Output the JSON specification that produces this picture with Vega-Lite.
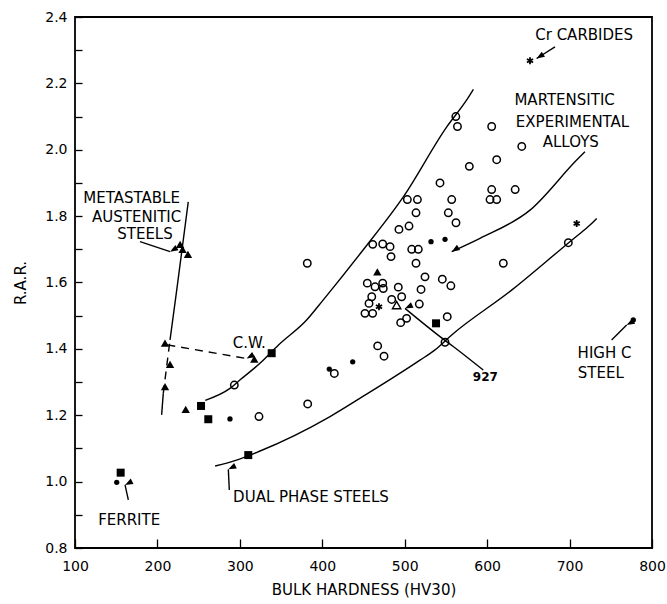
{
  "$schema": "https://vega.github.io/schema/vega-lite/v6.json",
  "width": 577,
  "height": 531,
  "autosize": {"type": "none"},
  "padding": {"left": 75, "top": 17, "right": 15, "bottom": 56},
  "background": "white",
  "config": {
    "view": {"stroke": "black", "strokeWidth": 1.8},
    "font": "DejaVu Sans",
    "axis": {
      "domain": false, "ticks": true, "tickColor": "black", "tickWidth": 1.3, "tickOpacity": 1, "zindex": 1,
      "labelColor": "black", "titleColor": "black", "labelFont": "DejaVu Sans", "titleFont": "DejaVu Sans",
      "labelFontSize": 14, "titleFontSize": 15, "titleFontWeight": "normal", "grid": false, "labelFlush": false
    }
  },
  "datasets": {
    "pts": [
      {"x": 562, "y": 2.10, "k": "o"}, {"x": 564, "y": 2.07, "k": "o"}, {"x": 605.5, "y": 2.07, "k": "o"},
      {"x": 642, "y": 2.01, "k": "o"}, {"x": 611.6, "y": 1.97, "k": "o"}, {"x": 578.4, "y": 1.95, "k": "o"},
      {"x": 542.8, "y": 1.90, "k": "o"}, {"x": 605.5, "y": 1.88, "k": "o"}, {"x": 603.5, "y": 1.85, "k": "o"},
      {"x": 611.6, "y": 1.85, "k": "o"}, {"x": 634, "y": 1.88, "k": "o"}, {"x": 503.2, "y": 1.85, "k": "o"},
      {"x": 515.4, "y": 1.85, "k": "o"}, {"x": 557, "y": 1.85, "k": "o"}, {"x": 513.7, "y": 1.81, "k": "o"},
      {"x": 552.9, "y": 1.81, "k": "o"}, {"x": 562.2, "y": 1.78, "k": "o"}, {"x": 493, "y": 1.76, "k": "o"},
      {"x": 505.2, "y": 1.77, "k": "o"}, {"x": 461.2, "y": 1.715, "k": "o"}, {"x": 473.3, "y": 1.716, "k": "o"},
      {"x": 482.2, "y": 1.708, "k": "o"}, {"x": 483.4, "y": 1.678, "k": "o"}, {"x": 508.5, "y": 1.70, "k": "o"},
      {"x": 516.5, "y": 1.70, "k": "o"}, {"x": 513.7, "y": 1.658, "k": "o"}, {"x": 619.6, "y": 1.658, "k": "o"},
      {"x": 698.5, "y": 1.72, "k": "o"}, {"x": 381.8, "y": 1.658, "k": "o"}, {"x": 524.6, "y": 1.617, "k": "o"},
      {"x": 545.6, "y": 1.61, "k": "o"}, {"x": 556, "y": 1.59, "k": "o"}, {"x": 454.6, "y": 1.598, "k": "o"},
      {"x": 464, "y": 1.587, "k": "o"}, {"x": 473.3, "y": 1.598, "k": "o"}, {"x": 474, "y": 1.582, "k": "o"},
      {"x": 492.2, "y": 1.586, "k": "o"}, {"x": 519.8, "y": 1.579, "k": "o"}, {"x": 460, "y": 1.557, "k": "o"},
      {"x": 484.2, "y": 1.549, "k": "o"}, {"x": 496.3, "y": 1.557, "k": "o"}, {"x": 517.7, "y": 1.535, "k": "o"},
      {"x": 456.7, "y": 1.537, "k": "o"}, {"x": 451.8, "y": 1.507, "k": "o"}, {"x": 461.1, "y": 1.507, "k": "o"},
      {"x": 502.3, "y": 1.492, "k": "o"}, {"x": 495.1, "y": 1.479, "k": "o"}, {"x": 551.6, "y": 1.497, "k": "o"},
      {"x": 548.9, "y": 1.42, "k": "o"}, {"x": 467.2, "y": 1.409, "k": "o"}, {"x": 474.9, "y": 1.378, "k": "o"},
      {"x": 414.6, "y": 1.326, "k": "o"}, {"x": 293.3, "y": 1.291, "k": "o"}, {"x": 323.2, "y": 1.196, "k": "o"},
      {"x": 382.3, "y": 1.234, "k": "o"},
      {"x": 531.9, "y": 1.723, "k": "f"}, {"x": 548.9, "y": 1.73, "k": "f"}, {"x": 436.9, "y": 1.361, "k": "f"},
      {"x": 408.5, "y": 1.339, "k": "f"}, {"x": 288, "y": 1.189, "k": "f"}, {"x": 150.6, "y": 0.998, "k": "f"},
      {"x": 777.3, "y": 1.487, "k": "f"},
      {"x": 338.6, "y": 1.387, "k": "s"}, {"x": 252.9, "y": 1.228, "k": "s"}, {"x": 261.7, "y": 1.188, "k": "s"},
      {"x": 310.2, "y": 1.08, "k": "s"}, {"x": 155.4, "y": 1.027, "k": "s"}, {"x": 538, "y": 1.477, "k": "s"},
      {"x": 209.2, "y": 1.417, "k": "t"}, {"x": 215.3, "y": 1.353, "k": "t"}, {"x": 209.2, "y": 1.286, "k": "t"},
      {"x": 234.3, "y": 1.218, "k": "t"}, {"x": 317.5, "y": 1.369, "k": "t"}, {"x": 466.8, "y": 1.632, "k": "t"},
      {"x": 227.5, "y": 1.715, "k": "t"}, {"x": 230.5, "y": 1.70, "k": "t"}, {"x": 237, "y": 1.685, "k": "t"},
      {"x": 490.2, "y": 1.532, "k": "to"},
      {"x": 652, "y": 2.268, "k": "star"}, {"x": 708.6, "y": 1.778, "k": "star"}, {"x": 468.8, "y": 1.527, "k": "star"}
    ],
    "lines": [
      {"id": "upper", "x": 258, "y": 1.245}, {"id": "upper", "x": 288, "y": 1.281}, {"id": "upper", "x": 300, "y": 1.306},
      {"id": "upper", "x": 326.4, "y": 1.361}, {"id": "upper", "x": 346.6, "y": 1.411}, {"id": "upper", "x": 381, "y": 1.487},
      {"id": "upper", "x": 401, "y": 1.547}, {"id": "upper", "x": 449.5, "y": 1.698}, {"id": "upper", "x": 498.3, "y": 1.858},
      {"id": "upper", "x": 551, "y": 2.069}, {"id": "upper", "x": 575.2, "y": 2.15}, {"id": "upper", "x": 583.3, "y": 2.182},
      {"id": "lower", "x": 270, "y": 1.047}, {"id": "lower", "x": 296, "y": 1.065}, {"id": "lower", "x": 322.4, "y": 1.09},
      {"id": "lower", "x": 409.4, "y": 1.196}, {"id": "lower", "x": 445, "y": 1.25}, {"id": "lower", "x": 518.5, "y": 1.366},
      {"id": "lower", "x": 536.7, "y": 1.397}, {"id": "lower", "x": 557, "y": 1.442}, {"id": "lower", "x": 629.7, "y": 1.577},
      {"id": "lower", "x": 688.4, "y": 1.698}, {"id": "lower", "x": 707.8, "y": 1.738}, {"id": "lower", "x": 724.8, "y": 1.773},
      {"id": "lower", "x": 732.9, "y": 1.793},
      {"id": "mart", "x": 718.7, "y": 1.994}, {"id": "mart", "x": 708.6, "y": 1.969}, {"id": "mart", "x": 652, "y": 1.818},
      {"id": "mart", "x": 591.3, "y": 1.733}, {"id": "mart", "x": 557, "y": 1.693},
      {"id": "meta_lo", "x": 205.1, "y": 1.201}, {"id": "meta_lo", "x": 207.1, "y": 1.266},
      {"id": "meta_dash", "x": 207.1, "y": 1.266}, {"id": "meta_dash", "x": 215.3, "y": 1.427},
      {"id": "meta_hi", "x": 215.3, "y": 1.427}, {"id": "meta_hi", "x": 223.4, "y": 1.577}, {"id": "meta_hi", "x": 237.4, "y": 1.843},
      {"id": "cw", "x": 212, "y": 1.412}, {"id": "cw", "x": 308.2, "y": 1.371},
      {"id": "l927", "x": 500.3, "y": 1.522}, {"id": "l927", "x": 542.8, "y": 1.437}, {"id": "l927", "x": 558.9, "y": 1.407},
      {"id": "l927", "x": 595.3, "y": 1.336},
      {"id": "a_cr", "x": 660, "y": 2.275}, {"id": "a_cr", "x": 682.3, "y": 2.31},
      {"id": "a_meta", "x": 178.9, "y": 1.723}, {"id": "a_meta", "x": 215.3, "y": 1.693},
      {"id": "a_highc", "x": 751, "y": 1.427}, {"id": "a_highc", "x": 769.2, "y": 1.472},
      {"id": "a_fer", "x": 160.7, "y": 0.99}, {"id": "a_fer", "x": 164.7, "y": 0.945},
      {"id": "a_dual", "x": 286, "y": 1.037}, {"id": "a_dual", "x": 287.2, "y": 0.975}
    ],
    "heads": [
      {"id": "cr", "x": 660, "y": 2.275}, {"id": "mart", "x": 557, "y": 1.693}, {"id": "meta", "x": 215.3, "y": 1.693},
      {"id": "cw", "x": 308.2, "y": 1.371}, {"id": "highc", "x": 769.2, "y": 1.472}, {"id": "fer", "x": 160.7, "y": 0.99},
      {"id": "dual", "x": 286, "y": 1.037}, {"id": "n927", "x": 500.3, "y": 1.522}
    ],
    "xticks": [{"x": 200}, {"x": 300}, {"x": 400}, {"x": 500}, {"x": 600}, {"x": 700}],
    "yticks": [
      {"y": 0.9}, {"y": 1.0}, {"y": 1.1}, {"y": 1.2}, {"y": 1.3}, {"y": 1.4}, {"y": 1.5}, {"y": 1.6},
      {"y": 1.7}, {"y": 1.8}, {"y": 1.9}, {"y": 2.0}, {"y": 2.1}, {"y": 2.2}, {"y": 2.3}
    ],
    "labels": [
      {"x": 717.7, "y": 2.346, "t": "Cr CARBIDES"},
      {"x": 694, "y": 2.151, "t": "MARTENSITIC"},
      {"x": 703.6, "y": 2.084, "t": "EXPERIMENTAL"},
      {"x": 701.5, "y": 2.024, "t": "ALLOYS"},
      {"x": 168.7, "y": 1.854, "t": "METASTABLE"},
      {"x": 174.8, "y": 1.798, "t": "AUSTENITIC"},
      {"x": 184.9, "y": 1.745, "t": "STEELS"},
      {"x": 311.4, "y": 1.419, "t": "C.W."},
      {"x": 165.7, "y": 0.884, "t": "FERRITE"},
      {"x": 386.3, "y": 0.953, "t": "DUAL PHASE STEELS"},
      {"x": 742.4, "y": 1.388, "t": "HIGH C"},
      {"x": 737.9, "y": 1.326, "t": "STEEL"}
    ],
    "num": [
      {"x": 597.8, "y": 1.314, "t": "927"}
    ]
  },
  "encoding": {
    "x": {
      "field": "x", "type": "quantitative",
      "scale": {"domain": [100, 800], "nice": false, "zero": false},
      "axis": {"title": "BULK HARDNESS (HV30)", "values": [100, 200, 300, 400, 500, 600, 700, 800], "offset": -9, "ticks": true, "tickSize": 9, "tickColor": "black", "tickWidth": 1.3, "labelPadding": 11, "titlePadding": 9, "format": "d", "labelFlush": false, "zindex": 1}
    },
    "y": {
      "field": "y", "type": "quantitative",
      "scale": {"domain": [0.8, 2.4], "nice": false, "zero": false},
      "axis": {
        "title": "R.A.R.",
        "values": [0.8, 0.9, 1.0, 1.1, 1.2, 1.3, 1.4, 1.5, 1.6, 1.7, 1.8, 1.9, 2.0, 2.1, 2.2, 2.3, 2.4],
        "labelExpr": "round(datum.value * 10) % 2 == 0 ? format(datum.value, '.1f') : ''",
        "offset": -7, "ticks": true, "tickSize": 7, "tickColor": "black", "tickWidth": 1.3, "labelPadding": 8, "titlePadding": 16, "labelFlush": false, "zindex": 1
      }
    }
  },
  "layer": [
    {
      "data": {"name": "xticks"},
      "mark": {"type": "tick", "orient": "vertical", "color": "black", "size": 9, "thickness": 1.4, "yOffset": -4.5, "opacity": 1},
      "encoding": {"y": {"datum": 0.8, "type": "quantitative"}}
    },
    {
      "data": {"name": "yticks"},
      "mark": {"type": "tick", "orient": "horizontal", "color": "black", "size": 7, "thickness": 1.4, "xOffset": 3.5, "opacity": 1},
      "encoding": {"x": {"datum": 100, "type": "quantitative"}}
    },
    {
      "data": {"name": "lines"},
      "transform": [{"filter": "datum.id != 'meta_dash' && datum.id != 'cw'"}],
      "mark": {"type": "line", "color": "black", "strokeWidth": 1.4, "interpolate": "monotone"},
      "encoding": {"detail": {"field": "id"}}
    },
    {
      "data": {"name": "lines"},
      "transform": [{"filter": "datum.id == 'meta_dash' || datum.id == 'cw'"}],
      "mark": {"type": "line", "color": "black", "strokeWidth": 1.4, "strokeDash": [8, 6]},
      "encoding": {"detail": {"field": "id"}}
    },
    {
      "data": {"name": "heads"},
      "mark": {"type": "point", "shape": "M0,0L0.38,1L-0.38,1Z", "filled": true, "color": "black", "size": 256, "opacity": 1},
      "encoding": {
        "angle": {"field": "id", "type": "ordinal", "legend": null,
          "scale": {"domain": ["cr", "mart", "meta", "cw", "highc", "fer", "dual", "n927"], "range": [237.6, 244.7, 108.4, 99, 45, 347.6, 357, 309]}}
      }
    },
    {
      "data": {"name": "pts"},
      "transform": [{"filter": "datum.k == 'o'"}],
      "mark": {"type": "point", "shape": "circle", "filled": false, "color": "black", "strokeWidth": 1.5, "size": 55, "opacity": 1}
    },
    {
      "data": {"name": "pts"},
      "transform": [{"filter": "datum.k == 'f'"}],
      "mark": {"type": "circle", "color": "black", "size": 28, "opacity": 1}
    },
    {
      "data": {"name": "pts"},
      "transform": [{"filter": "datum.k == 's'"}],
      "mark": {"type": "square", "color": "black", "size": 64, "opacity": 1}
    },
    {
      "data": {"name": "pts"},
      "transform": [{"filter": "datum.k == 't'"}],
      "mark": {"type": "point", "shape": "triangle-up", "filled": true, "color": "black", "size": 70, "opacity": 1}
    },
    {
      "data": {"name": "pts"},
      "transform": [{"filter": "datum.k == 'to'"}],
      "mark": {"type": "point", "shape": "triangle-up", "filled": false, "color": "black", "strokeWidth": 1.4, "size": 70, "opacity": 1}
    },
    {
      "data": {"name": "pts"},
      "transform": [{"filter": "datum.k == 'star'"}],
      "mark": {"type": "point", "shape": "M0,-1L0,1M-0.87,-0.5L0.87,0.5M-0.87,0.5L0.87,-0.5", "filled": false, "color": "black", "strokeWidth": 1.8, "size": 50, "opacity": 1}
    },
    {
      "data": {"name": "labels"},
      "mark": {"type": "text", "font": "DejaVu Sans", "fontSize": 15, "color": "black", "align": "center", "baseline": "middle"},
      "encoding": {"text": {"field": "t"}}
    },
    {
      "data": {"name": "num"},
      "mark": {"type": "text", "font": "DejaVu Sans", "fontSize": 12, "fontWeight": "bold", "color": "black", "align": "center", "baseline": "middle"},
      "encoding": {"text": {"field": "t"}}
    }
  ]
}
